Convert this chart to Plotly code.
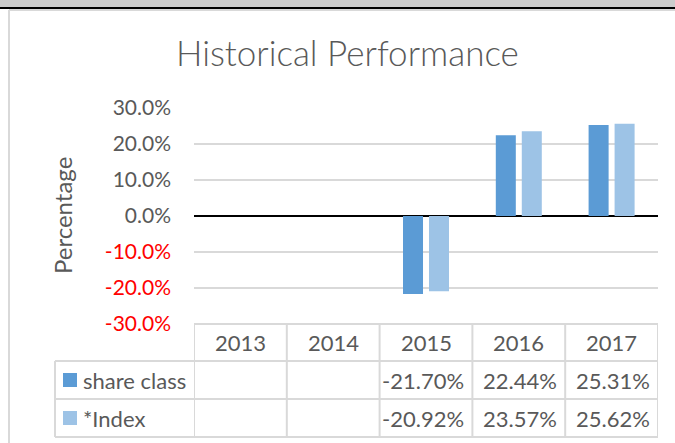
import plotly.graph_objects as go

# ---- data ----
years = ["2013", "2014", "2015", "2016", "2017"]
share_class = [None, None, -0.2170, 0.2244, 0.2531]
index_vals = [None, None, -0.2092, 0.2357, 0.2562]
series_names = ["share class", "*Index"]
series_colors = ["#5B9BD5", "#9DC3E6"]
tick_vals = [0.3, 0.2, 0.1, 0.0, -0.1, -0.2, -0.3]
title_text = "Historical Performance"
y_title = "Percentage"

W, H = 675, 443
L, R, T, B = 194, 17, 108, 119
PW, PH = W - L - R, H - T - B
FONT = "Lato"
GRAY = "#595959"
LINE = "#d9d9d9"


def X(px):
    return (px - L) / PW


def Y(py):
    return (H - B - py) / PH


fig = go.Figure()
for name, vals, col in zip(series_names, [share_class, index_vals], series_colors):
    fig.add_trace(go.Bar(x=years, y=vals, name=name, marker=dict(color=col, line=dict(width=0))))

ticktext = []
for v in tick_vals:
    s = f"{v*100:.1f}%"
    if v < 0:
        s = f"<span style='color:#FF0000'>{s}</span>"
    ticktext.append(s)

fig.update_layout(
    width=W, height=H,
    margin=dict(l=L, r=R, t=T, b=B, pad=0),
    paper_bgcolor="white", plot_bgcolor="white",
    barmode="group", bargap=0.44, bargroupgap=0.23,
    showlegend=False,
    font=dict(family=FONT, color=GRAY, size=22),
    xaxis=dict(type="category", range=[-0.5, len(years) - 0.5], showticklabels=False,
               showgrid=False, zeroline=False, showline=False, ticks=""),
    yaxis=dict(range=[-0.3, 0.3], tickvals=tick_vals, ticktext=ticktext,
               showgrid=True, gridcolor=LINE, gridwidth=1.5,
               zeroline=True, zerolinecolor="#000000", zerolinewidth=2,
               showline=False, ticks="", ticklabelstandoff=22,
               tickfont=dict(family=FONT, size=21, color=GRAY)),
)

shapes = []
# top gray band and black line
shapes.append(dict(type="rect", xref="paper", yref="paper", x0=X(-5), x1=X(W + 5), y0=Y(7), y1=Y(-5),
                   fillcolor="#cccccc", line=dict(width=0), layer="above"))
shapes.append(dict(type="line", xref="paper", yref="paper", x0=X(-5), x1=X(W + 5), y0=Y(8), y1=Y(8),
                   line=dict(color="#000000", width=2)))
# chart area border
shapes.append(dict(type="line", xref="paper", yref="paper", x0=X(9), x1=X(W + 5), y0=Y(10), y1=Y(10),
                   line=dict(color=LINE, width=2)))
shapes.append(dict(type="line", xref="paper", yref="paper", x0=X(9), x1=X(9), y0=Y(10), y1=Y(H + 5),
                   line=dict(color=LINE, width=2)))

# data table grid
row_lines = [324, 361, 399, 437]
leg_left = 55
for i, py in enumerate(row_lines):
    x0 = X(L) if i == 0 else X(leg_left)
    shapes.append(dict(type="line", xref="paper", yref="paper", x0=x0, x1=1, y0=Y(py), y1=Y(py),
                       line=dict(color=LINE, width=2)))
for k in range(len(years) + 1):
    shapes.append(dict(type="line", xref="x", yref="paper", x0=k - 0.5, x1=k - 0.5,
                       y0=Y(row_lines[0]), y1=Y(row_lines[-1]), line=dict(color=LINE, width=2)))
shapes.append(dict(type="line", xref="paper", yref="paper", x0=X(leg_left), x1=X(leg_left),
                   y0=Y(row_lines[1]), y1=Y(row_lines[-1]), line=dict(color=LINE, width=2)))

annotations = []
# title
annotations.append(dict(text=title_text, xref="paper", yref="paper", x=X(347.5), y=Y(52),
                        xanchor="center", yanchor="middle", showarrow=False,
                        font=dict(family=FONT, size=35, color=GRAY, weight=300)))
# y title
annotations.append(dict(text=y_title, xref="paper", yref="paper", x=X(62), y=0.5, textangle=-90,
                        xanchor="center", yanchor="middle", showarrow=False,
                        font=dict(family=FONT, size=24, color=GRAY)))
# header row
hdr_y = Y((row_lines[0] + row_lines[1]) / 2)
for i, yr in enumerate(years):
    annotations.append(dict(text=yr, xref="x", yref="paper", x=i, y=hdr_y, xanchor="center",
                            yanchor="middle", showarrow=False))
# series rows
for r, (name, vals, col) in enumerate(zip(series_names, [share_class, index_vals], series_colors)):
    cy = (row_lines[r + 1] + row_lines[r + 2]) / 2
    shapes.append(dict(type="rect", xref="paper", yref="paper", x0=X(63), x1=X(77),
                       y0=Y(cy + 7), y1=Y(cy - 7), fillcolor=col, line=dict(width=0)))
    annotations.append(dict(text=name, xref="paper", yref="paper", x=X(81), y=Y(cy),
                            xanchor="left", yanchor="middle", showarrow=False))
    for i, v in enumerate(vals):
        if v is None:
            continue
        annotations.append(dict(text=f"{v*100:.2f}%", xref="x", yref="paper", x=i + 0.5, xshift=-6,
                                y=Y(cy), xanchor="right", yanchor="middle", showarrow=False))

fig.update_layout(shapes=shapes, annotations=annotations)
fig.write_html("out.html", config={"displayModeBar": False},
               post_script="document.body.style.margin='0px';document.body.style.overflow='hidden';")
